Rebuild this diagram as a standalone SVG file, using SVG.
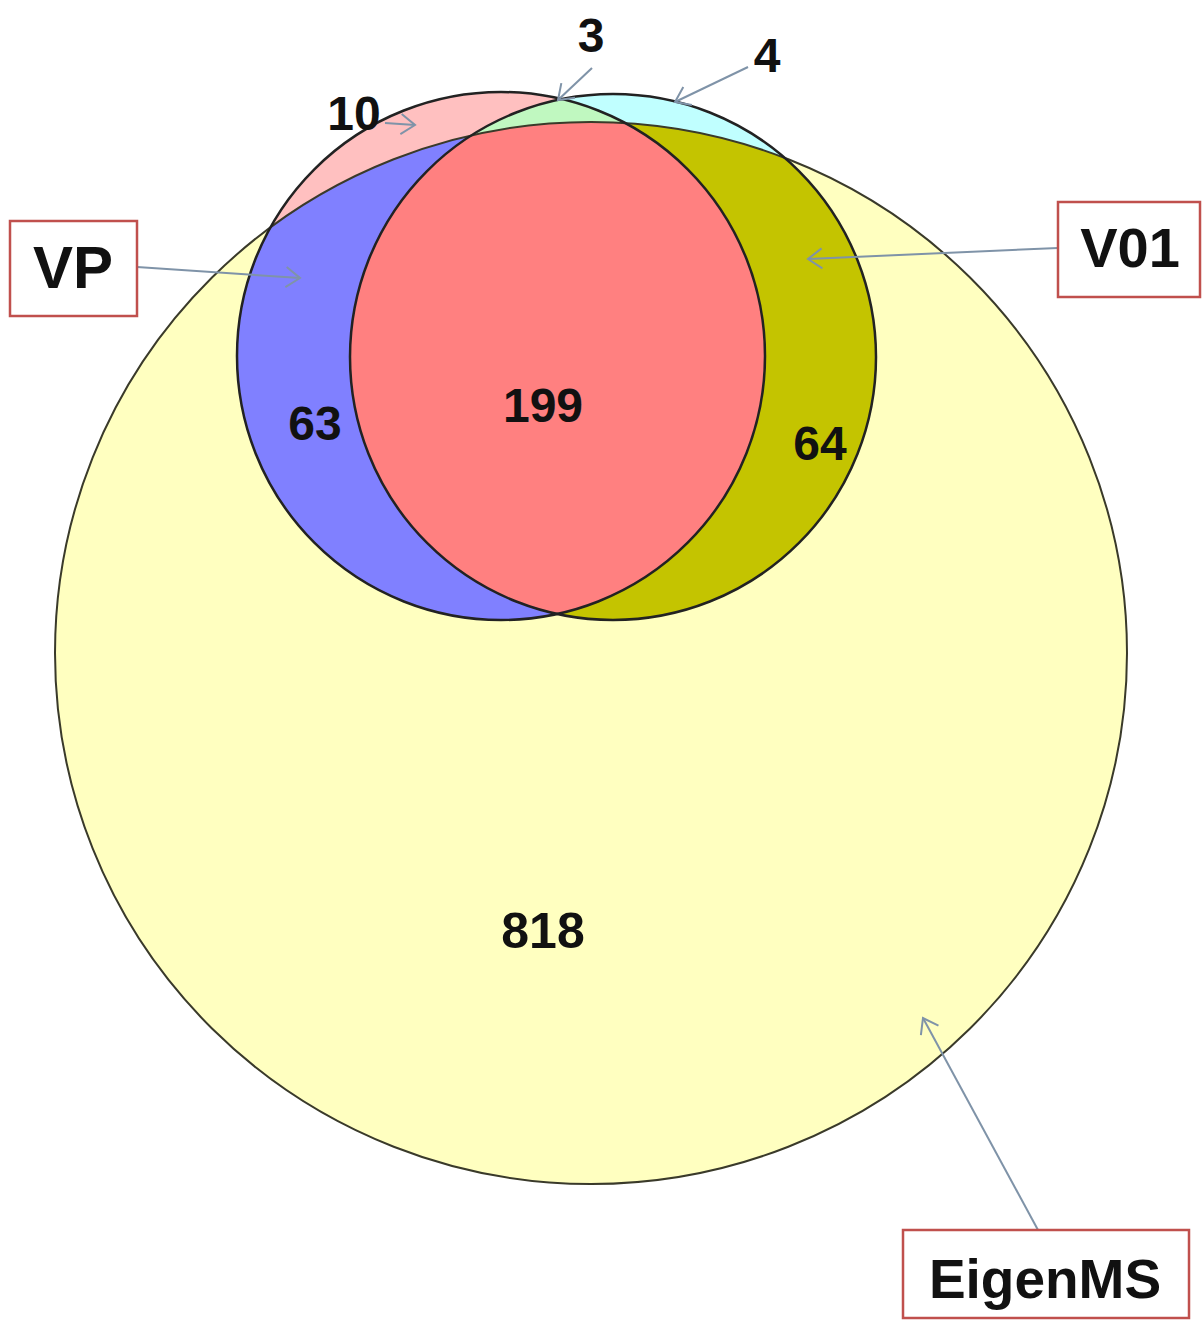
<svg xmlns="http://www.w3.org/2000/svg" width="1204" height="1324" viewBox="0 0 1204 1324">
<style>
.num{font-family:"Liberation Sans",Arial,sans-serif;font-weight:bold;font-size:48px;fill:#111;text-anchor:middle}
.lbl{font-family:"Liberation Sans",Arial,sans-serif;font-weight:bold;fill:#111;text-anchor:middle}
.box{fill:#fff;stroke:#c0504d;stroke-width:2.5}
.outline{fill:none;stroke:#222;stroke-width:2.5}
.conn{fill:none;stroke:#7f93a8;stroke-width:2;marker-end:url(#arr)}
</style>
<defs>
<marker id="arr" markerUnits="userSpaceOnUse" markerWidth="22" markerHeight="24" refX="16" refY="12" orient="auto">
<path d="M2,2 L16,12 L2,22" fill="none" stroke="#7f93a8" stroke-width="2"/>
</marker>
<clipPath id="clipE"><ellipse cx="591" cy="653" rx="536" ry="531"/></clipPath>
<clipPath id="clipVP"><circle cx="501" cy="356" r="264"/></clipPath>
<clipPath id="clipV01"><circle cx="613" cy="357" r="263"/></clipPath>
</defs>
<rect width="1204" height="1324" fill="#fff"/>
<g id="venn">
<g id="set-eigenms"><ellipse cx="591" cy="653" rx="536" ry="531" fill="#ffffc0"/></g>
<g id="set-vp"><circle cx="501" cy="356" r="264" fill="#ffc0c0"/></g>
<g id="set-v01"><circle cx="613" cy="357" r="263" fill="#c0ffff"/></g>
<g id="region-vp-v01" clip-path="url(#clipVP)"><circle cx="613" cy="357" r="263" fill="#c0f8c0"/></g>
<g id="region-vp-e" clip-path="url(#clipE)"><circle cx="501" cy="356" r="264" fill="#8080ff"/></g>
<g id="region-v01-e" clip-path="url(#clipE)"><circle cx="613" cy="357" r="263" fill="#c4c400"/></g>
<g id="region-all" clip-path="url(#clipE)"><g clip-path="url(#clipVP)"><circle cx="613" cy="357" r="263" fill="#ff8080"/></g></g>
<ellipse class="outline" cx="591" cy="653" rx="536" ry="531" style="stroke:#3a3a2a;stroke-width:2"/>
<circle class="outline" cx="501" cy="356" r="264"/>
<circle class="outline" cx="613" cy="357" r="263"/>
</g>
<g id="counts">
<text class="num" x="354" y="130">10</text>
<text class="num" x="591" y="52">3</text>
<text class="num" x="767" y="72">4</text>
<text class="num" x="315" y="440">63</text>
<text class="num" x="543" y="422">199</text>
<text class="num" x="820" y="460">64</text>
<text class="num" x="543" y="948" style="font-size:50px">818</text>
</g>
<g id="connectors">
<path class="conn" d="M137,267 L300,278"/>
<path class="conn" d="M1058,248 L808,259"/>
<path class="conn" d="M1038,1230 L923,1018"/>
<path class="conn" d="M385,123 L415,125"/>
<path class="conn" d="M592,68 L558,100"/>
<path class="conn" d="M748,67 L675,102"/>
</g>
<g id="node-vp">
<rect class="box" x="10" y="221" width="127" height="95"/>
<text class="lbl" x="73" y="288" style="font-size:60px">VP</text>
</g>
<g id="node-v01">
<rect class="box" x="1058" y="202" width="142" height="95"/>
<text class="lbl" x="1130" y="267" style="font-size:56px">V01</text>
</g>
<g id="node-eigenms">
<rect class="box" x="903" y="1230" width="286" height="88"/>
<text class="lbl" x="1045" y="1298" style="font-size:55px">EigenMS</text>
</g>
</svg>
